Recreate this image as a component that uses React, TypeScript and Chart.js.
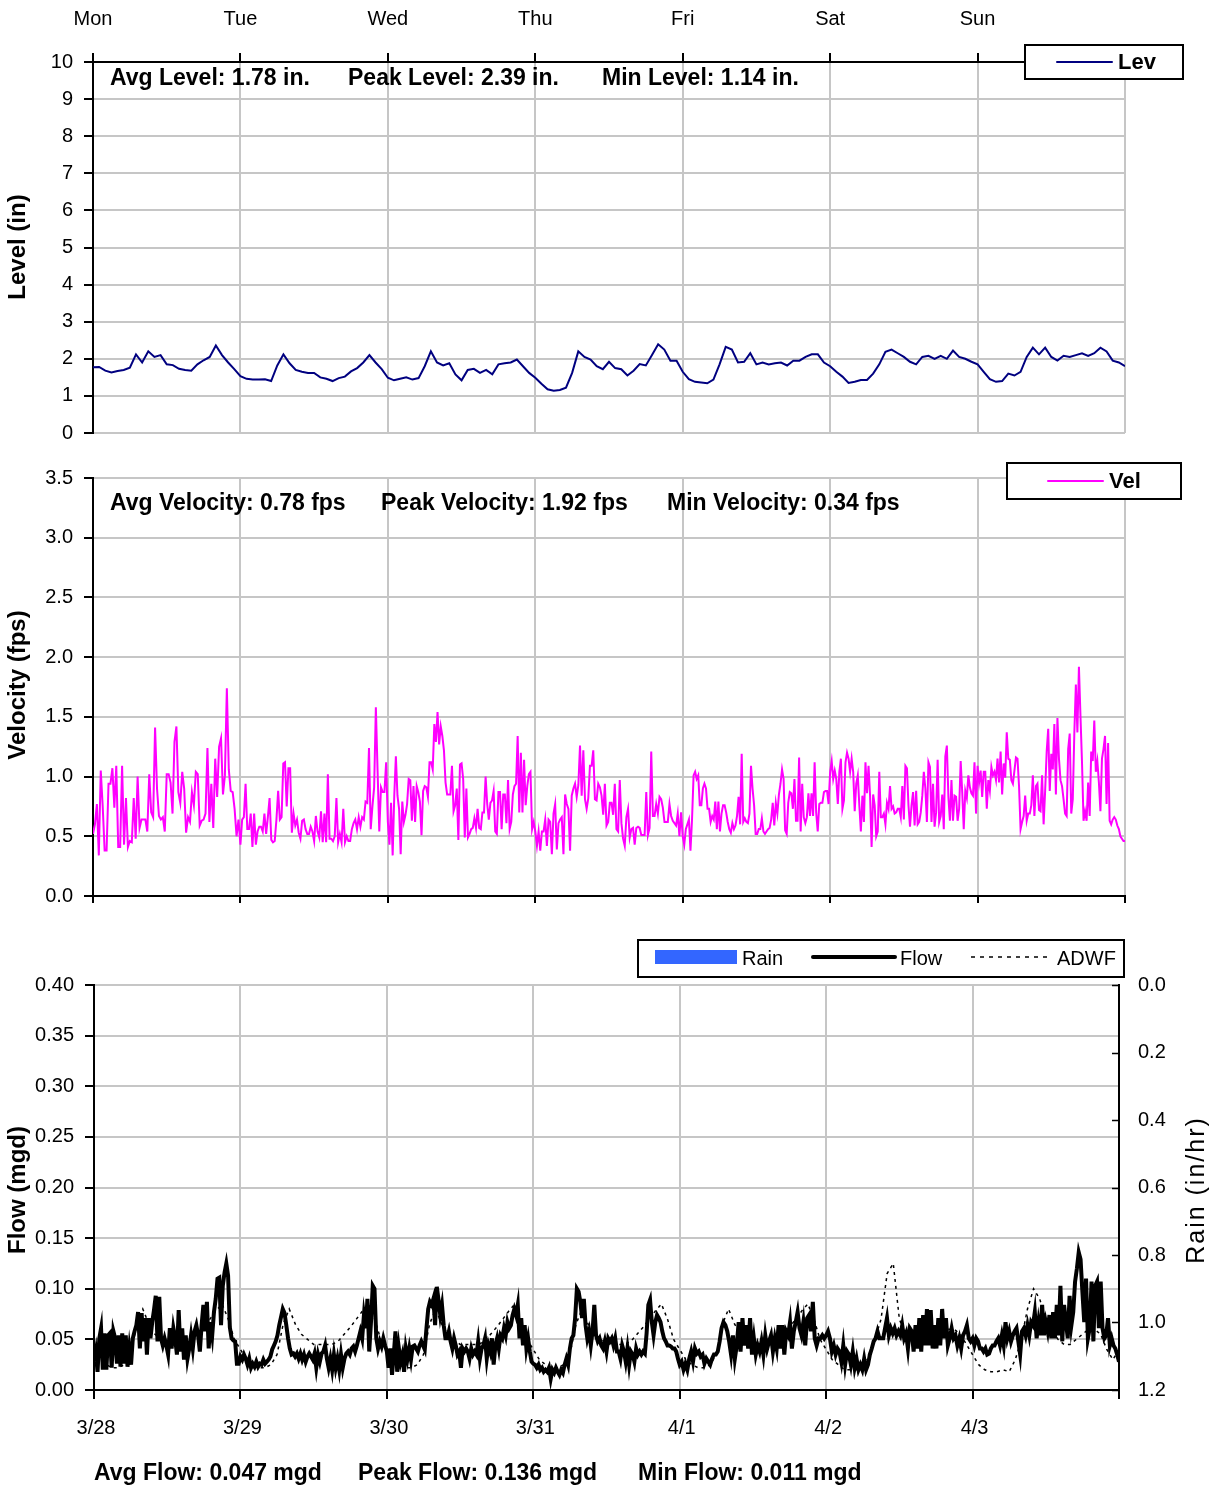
import React, { useEffect, useRef } from "react";
import { Chart, registerables } from "chart.js";

Chart.register(...registerables);

const FONT = "'Liberation Sans', Arial, Helvetica, sans-serif";
const GRID = "#c6c6c6";

// ---- axis labels ----
const dayNames = ["Mon", "Tue", "Wed", "Thu", "Fri", "Sat", "Sun"];
const dateLabels = ["3/28", "3/29", "3/30", "3/31", "4/1", "4/2", "4/3"];

// ---- stats texts ----
const levelStats = ["Avg Level: 1.78 in.", "Peak Level: 2.39 in.", "Min Level: 1.14 in."];
const velocityStats = ["Avg Velocity: 0.78 fps", "Peak Velocity: 1.92 fps", "Min Velocity: 0.34 fps"];
const flowStats = ["Avg Flow: 0.047 mgd", "Peak Flow: 0.136 mgd", "Min Flow: 0.011 mgd"];

// ---- Level (in), hourly per day ----
const levMon = [1.77, 1.78, 1.68, 1.63, 1.67, 1.70, 1.76, 2.12, 1.90, 2.20, 2.05, 2.10, 1.85, 1.83, 1.73, 1.70, 1.68, 1.85, 1.96, 2.05, 2.36, 2.10, 1.90, 1.72];
const levTue = [1.53, 1.46, 1.44, 1.44, 1.45, 1.40, 1.82, 2.12, 1.88, 1.70, 1.65, 1.62, 1.62, 1.50, 1.46, 1.40, 1.48, 1.52, 1.66, 1.75, 1.90, 2.10, 1.90, 1.72];
const levWed = [1.49, 1.42, 1.46, 1.50, 1.44, 1.48, 1.80, 2.20, 1.90, 1.82, 1.88, 1.58, 1.42, 1.70, 1.73, 1.62, 1.70, 1.58, 1.85, 1.88, 1.90, 1.98, 1.80, 1.62];
const levThu = [1.49, 1.33, 1.18, 1.14, 1.16, 1.22, 1.62, 2.20, 2.05, 1.98, 1.80, 1.72, 1.92, 1.75, 1.72, 1.55, 1.68, 1.86, 1.82, 2.10, 2.39, 2.25, 1.95, 1.95];
const levFri = [1.65, 1.45, 1.38, 1.36, 1.34, 1.44, 1.85, 2.32, 2.25, 1.90, 1.92, 2.15, 1.85, 1.90, 1.85, 1.88, 1.90, 1.82, 1.95, 1.95, 2.05, 2.12, 2.12, 1.90];
const levSat = [1.80, 1.65, 1.52, 1.35, 1.38, 1.43, 1.43, 1.60, 1.85, 2.19, 2.25, 2.15, 2.05, 1.92, 1.85, 2.05, 2.08, 2.00, 2.08, 2.00, 2.22, 2.05, 2.00, 1.92];
const levSun = [1.85, 1.65, 1.45, 1.38, 1.40, 1.60, 1.55, 1.65, 2.05, 2.30, 2.12, 2.30, 2.05, 1.95, 2.08, 2.05, 2.10, 2.15, 2.08, 2.15, 2.30, 2.20, 1.95, 1.90, 1.80];

// ---- Velocity (fps), ~15 min per day ----
const velMon = [0.52, 0.60, 0.77, 0.34, 1.05, 0.75, 0.38, 0.38, 0.94, 0.94, 1.07, 0.74, 1.09, 0.41, 0.41, 1.09, 0.43, 0.82, 0.41, 0.46, 0.45, 0.82, 0.48, 1.00, 0.57, 0.64, 0.64, 0.64, 0.54, 1.02, 0.70, 0.66, 1.41, 0.90, 0.67, 0.64, 0.66, 0.54, 1.02, 1.02, 0.95, 0.69, 1.29, 1.42, 0.87, 0.78, 1.04, 0.90, 0.53, 0.66, 0.62, 0.87, 0.76, 1.04, 1.02, 0.59, 0.63, 0.64, 0.69, 1.24, 0.62, 0.94, 0.57, 1.15, 0.83, 1.25, 1.32, 0.85, 1.01, 1.74, 1.06, 0.88, 0.87, 0.73, 0.50, 0.64];
const velTue = [0.43, 0.64, 0.66, 0.94, 0.56, 0.56, 0.69, 0.41, 0.69, 0.43, 0.54, 0.58, 0.58, 0.54, 0.69, 0.52, 0.66, 0.82, 0.47, 0.45, 0.46, 0.64, 0.88, 0.64, 0.66, 1.11, 1.12, 0.75, 1.07, 1.07, 0.53, 0.69, 0.59, 0.64, 0.53, 0.48, 0.63, 0.64, 0.56, 0.52, 0.52, 0.58, 0.54, 0.46, 0.67, 0.54, 0.49, 0.71, 0.45, 0.69, 0.45, 1.02, 0.48, 0.48, 0.46, 0.50, 0.82, 0.45, 0.52, 0.45, 0.73, 0.45, 0.50, 0.46, 0.46, 0.56, 0.61, 0.64, 0.56, 0.66, 0.58, 0.66, 0.64, 0.79, 0.78, 1.24, 0.56, 0.75, 0.91, 1.58, 1.05, 0.54, 0.91, 0.87, 0.87, 1.12];
const velWed = [0.62, 0.43, 0.78, 0.34, 0.84, 1.17, 0.84, 0.73, 0.35, 0.79, 0.62, 0.68, 0.77, 0.98, 0.97, 0.63, 0.92, 0.62, 0.92, 0.87, 0.79, 0.51, 0.88, 0.92, 0.91, 0.83, 1.12, 1.12, 1.06, 1.44, 1.29, 1.54, 1.27, 1.42, 1.34, 1.22, 0.95, 0.85, 0.85, 0.85, 1.09, 0.71, 0.76, 0.90, 0.47, 1.10, 1.11, 0.98, 0.49, 0.90, 0.49, 0.52, 0.56, 0.57, 0.65, 0.57, 0.73, 0.57, 0.56, 0.70, 0.70, 1.00, 0.77, 0.64, 0.78, 0.80, 0.88, 0.54, 0.52, 0.87, 0.87, 0.56, 0.85, 0.85, 0.61, 0.97, 0.56, 0.62, 0.85, 0.92, 0.94, 1.34, 0.70, 1.20, 0.70, 1.14, 0.76, 0.92, 1.02, 1.04, 0.56, 0.62];
const velThu = [0.54, 0.42, 0.54, 0.38, 0.54, 0.54, 0.64, 0.42, 0.64, 0.62, 0.35, 0.69, 0.77, 0.39, 0.61, 0.64, 0.66, 0.35, 0.85, 0.77, 0.73, 0.38, 0.84, 0.90, 0.94, 0.83, 0.93, 1.26, 0.84, 1.22, 0.81, 0.73, 0.82, 1.09, 1.09, 1.22, 0.81, 0.80, 0.94, 0.91, 0.84, 0.68, 0.94, 0.59, 0.62, 0.78, 0.78, 0.68, 0.94, 0.56, 0.54, 0.97, 0.61, 0.48, 0.42, 0.66, 0.73, 0.49, 0.56, 0.57, 0.43, 0.57, 0.58, 0.57, 0.51, 0.51, 0.51, 0.87, 0.51, 0.57, 1.21, 0.67, 0.67, 0.77, 0.69, 0.83, 0.81, 0.74, 0.62, 0.62, 0.62, 0.77, 0.67, 0.63, 0.61, 0.59, 0.69, 0.50, 0.70];
const velFri = [0.50, 0.43, 0.56, 0.60, 0.64, 0.38, 0.64, 1.01, 1.04, 0.98, 1.01, 0.76, 0.76, 0.90, 0.94, 0.90, 0.73, 0.73, 0.62, 0.67, 0.64, 0.79, 0.56, 0.79, 0.54, 0.69, 0.76, 0.76, 0.70, 0.62, 0.56, 0.53, 0.61, 0.56, 0.59, 0.67, 0.83, 0.60, 1.19, 0.62, 0.65, 0.62, 0.61, 0.69, 1.09, 0.90, 0.76, 0.52, 0.52, 0.56, 0.56, 0.65, 0.54, 0.52, 0.54, 0.56, 0.57, 0.64, 0.78, 0.59, 0.78, 0.69, 0.85, 0.94, 1.06, 0.98, 0.55, 0.52, 0.78, 0.87, 0.86, 0.73, 0.98, 0.63, 0.63, 1.16, 0.54, 0.94, 0.66, 0.61, 0.66, 0.86, 0.67, 0.86, 0.67, 1.12, 0.70, 0.54, 0.77, 0.78, 0.78, 0.87, 0.88, 0.88, 0.77];
const velSat = [1.04, 1.13, 0.98, 1.05, 0.98, 0.77, 1.04, 1.15, 0.73, 0.80, 1.12, 1.20, 1.15, 1.04, 1.15, 1.04, 0.71, 0.94, 1.01, 0.76, 0.54, 0.84, 0.62, 1.12, 0.86, 1.09, 0.84, 0.41, 0.85, 0.76, 0.50, 0.54, 1.04, 0.66, 0.66, 0.69, 0.60, 0.78, 0.73, 0.92, 0.73, 0.75, 0.69, 0.70, 0.73, 0.73, 0.66, 0.92, 0.64, 1.09, 1.07, 0.76, 0.58, 0.76, 0.87, 0.59, 0.88, 0.60, 0.62, 0.70, 0.84, 1.04, 0.90, 0.62, 1.12, 1.08, 0.62, 0.94, 0.58, 0.70, 1.14, 0.62, 0.67, 0.85, 0.56, 1.17, 1.26, 0.83, 0.63, 0.97, 0.63, 0.84, 0.83, 0.63, 0.73, 1.13, 0.87, 0.56, 0.88, 0.82, 1.01, 0.91, 0.86, 0.84, 1.12, 0.69];
const velSun = [1.09, 0.95, 1.05, 0.83, 1.04, 1.04, 0.73, 0.97, 0.88, 1.08, 1.01, 1.04, 0.97, 1.15, 0.95, 1.21, 0.85, 1.11, 0.99, 1.37, 1.15, 1.14, 0.97, 0.94, 1.05, 1.16, 1.15, 0.92, 0.56, 0.62, 0.67, 0.84, 0.63, 0.69, 0.69, 0.76, 1.01, 0.67, 0.92, 0.94, 0.72, 0.71, 1.01, 0.60, 0.88, 1.21, 1.40, 0.88, 1.19, 1.06, 1.44, 0.85, 1.49, 1.15, 0.97, 0.92, 0.81, 0.69, 0.67, 1.23, 1.36, 0.69, 0.81, 1.36, 1.77, 1.37, 1.92, 1.51, 1.12, 0.63, 0.71, 0.63, 0.95, 0.67, 1.21, 1.13, 1.47, 1.04, 1.13, 0.95, 0.71, 1.15, 1.23, 1.34, 0.77, 1.28, 0.63, 0.60, 0.64, 0.66, 0.64, 0.59, 0.56, 0.50, 0.48, 0.46, 0.46];

// ---- Flow (mgd), ~15 min per day ----
const flowMon = [0.028, 0.038, 0.018, 0.051, 0.061, 0.020, 0.056, 0.020, 0.054, 0.056, 0.022, 0.058, 0.051, 0.026, 0.054, 0.023, 0.056, 0.026, 0.054, 0.023, 0.041, 0.025, 0.051, 0.058, 0.064, 0.077, 0.041, 0.076, 0.048, 0.071, 0.035, 0.071, 0.051, 0.067, 0.079, 0.093, 0.048, 0.092, 0.051, 0.044, 0.051, 0.044, 0.035, 0.061, 0.041, 0.061, 0.051, 0.035, 0.079, 0.038, 0.061, 0.030, 0.054, 0.031, 0.041, 0.054, 0.041, 0.058, 0.064, 0.054, 0.038, 0.064, 0.084, 0.058, 0.087, 0.041, 0.067, 0.054, 0.077, 0.090, 0.110, 0.111, 0.064, 0.103, 0.116, 0.125, 0.113, 0.062, 0.051, 0.049, 0.048, 0.026, 0.026];
const flowTue = [0.033, 0.030, 0.035, 0.031, 0.025, 0.031, 0.022, 0.026, 0.023, 0.028, 0.023, 0.026, 0.025, 0.030, 0.026, 0.028, 0.030, 0.033, 0.040, 0.044, 0.048, 0.054, 0.064, 0.072, 0.080, 0.076, 0.064, 0.051, 0.041, 0.035, 0.036, 0.033, 0.036, 0.031, 0.036, 0.030, 0.035, 0.028, 0.033, 0.036, 0.033, 0.030, 0.036, 0.022, 0.035, 0.028, 0.036, 0.038, 0.044, 0.031, 0.022, 0.031, 0.020, 0.035, 0.022, 0.031, 0.020, 0.035, 0.022, 0.031, 0.036, 0.038, 0.035, 0.041, 0.043, 0.038, 0.044, 0.051, 0.058, 0.051, 0.074, 0.061, 0.090, 0.038, 0.067, 0.103, 0.100, 0.051, 0.041, 0.048, 0.043, 0.051, 0.044];
const flowWed = [0.038, 0.022, 0.041, 0.015, 0.035, 0.058, 0.018, 0.041, 0.028, 0.035, 0.018, 0.041, 0.031, 0.041, 0.030, 0.043, 0.044, 0.041, 0.038, 0.044, 0.048, 0.044, 0.040, 0.061, 0.080, 0.087, 0.084, 0.090, 0.064, 0.102, 0.089, 0.074, 0.084, 0.064, 0.051, 0.051, 0.058, 0.048, 0.041, 0.051, 0.044, 0.035, 0.038, 0.022, 0.041, 0.038, 0.041, 0.038, 0.031, 0.041, 0.035, 0.038, 0.035, 0.048, 0.031, 0.041, 0.044, 0.051, 0.031, 0.044, 0.038, 0.051, 0.025, 0.044, 0.051, 0.041, 0.054, 0.051, 0.061, 0.054, 0.067, 0.061, 0.064, 0.074, 0.080, 0.074, 0.084, 0.051, 0.071, 0.044, 0.064, 0.041, 0.051, 0.038, 0.028];
const flowThu = [0.026, 0.025, 0.022, 0.025, 0.020, 0.022, 0.018, 0.020, 0.018, 0.022, 0.011, 0.020, 0.017, 0.022, 0.018, 0.015, 0.020, 0.017, 0.025, 0.031, 0.025, 0.041, 0.051, 0.054, 0.071, 0.100, 0.097, 0.087, 0.071, 0.090, 0.064, 0.051, 0.058, 0.044, 0.058, 0.084, 0.054, 0.048, 0.051, 0.044, 0.041, 0.048, 0.038, 0.051, 0.048, 0.051, 0.044, 0.051, 0.038, 0.038, 0.031, 0.044, 0.038, 0.028, 0.041, 0.025, 0.038, 0.035, 0.028, 0.041, 0.035, 0.038, 0.035, 0.038, 0.036, 0.056, 0.084, 0.089, 0.067, 0.054, 0.067, 0.074, 0.071, 0.067, 0.058, 0.051, 0.048, 0.044, 0.044, 0.043, 0.041, 0.041, 0.038, 0.031];
const flowFri = [0.025, 0.028, 0.020, 0.026, 0.020, 0.031, 0.038, 0.028, 0.041, 0.036, 0.038, 0.033, 0.035, 0.026, 0.031, 0.028, 0.025, 0.031, 0.035, 0.035, 0.038, 0.048, 0.061, 0.067, 0.064, 0.058, 0.048, 0.035, 0.054, 0.031, 0.044, 0.067, 0.038, 0.071, 0.044, 0.064, 0.041, 0.071, 0.035, 0.051, 0.035, 0.044, 0.038, 0.048, 0.035, 0.054, 0.041, 0.048, 0.054, 0.038, 0.051, 0.041, 0.064, 0.041, 0.064, 0.035, 0.058, 0.054, 0.067, 0.041, 0.058, 0.067, 0.077, 0.061, 0.054, 0.067, 0.044, 0.071, 0.074, 0.058, 0.087, 0.051, 0.044, 0.051, 0.051, 0.054, 0.051];
const flowSat = [0.054, 0.058, 0.051, 0.038, 0.044, 0.035, 0.041, 0.038, 0.028, 0.044, 0.025, 0.038, 0.035, 0.025, 0.038, 0.022, 0.031, 0.020, 0.025, 0.020, 0.031, 0.020, 0.025, 0.035, 0.041, 0.048, 0.051, 0.058, 0.051, 0.051, 0.051, 0.061, 0.071, 0.054, 0.061, 0.056, 0.061, 0.054, 0.058, 0.054, 0.064, 0.051, 0.056, 0.041, 0.061, 0.058, 0.038, 0.064, 0.041, 0.071, 0.038, 0.074, 0.044, 0.080, 0.044, 0.079, 0.041, 0.064, 0.041, 0.071, 0.044, 0.080, 0.051, 0.071, 0.044, 0.051, 0.061, 0.051, 0.054, 0.044, 0.051, 0.041, 0.054, 0.058, 0.064, 0.051, 0.048];
const flowSun = [0.051, 0.044, 0.051, 0.048, 0.041, 0.041, 0.038, 0.041, 0.035, 0.036, 0.041, 0.044, 0.044, 0.048, 0.051, 0.044, 0.054, 0.044, 0.067, 0.051, 0.058, 0.048, 0.054, 0.058, 0.061, 0.048, 0.035, 0.058, 0.061, 0.054, 0.064, 0.054, 0.067, 0.064, 0.077, 0.051, 0.067, 0.054, 0.084, 0.054, 0.067, 0.058, 0.074, 0.051, 0.077, 0.051, 0.084, 0.054, 0.103, 0.048, 0.084, 0.067, 0.051, 0.093, 0.064, 0.077, 0.107, 0.120, 0.136, 0.129, 0.097, 0.067, 0.110, 0.051, 0.061, 0.107, 0.048, 0.103, 0.107, 0.061, 0.107, 0.061, 0.051, 0.054, 0.071, 0.044, 0.051, 0.044, 0.041, 0.035, 0.028];

// ---- ADWF (mgd), hourly ----
const adwfWeekday = [0.040, 0.030, 0.025, 0.022, 0.022, 0.025, 0.035, 0.065, 0.080, 0.065, 0.055, 0.050, 0.045, 0.045, 0.045, 0.045, 0.048, 0.055, 0.062, 0.070, 0.078, 0.085, 0.070, 0.050];
const adwfSat = [0.040, 0.030, 0.025, 0.020, 0.020, 0.020, 0.025, 0.035, 0.050, 0.070, 0.115, 0.125, 0.070, 0.055, 0.050, 0.050, 0.050, 0.050, 0.055, 0.055, 0.060, 0.060, 0.055, 0.045];
const adwfSun = [0.035, 0.025, 0.020, 0.018, 0.018, 0.020, 0.018, 0.030, 0.050, 0.080, 0.100, 0.090, 0.070, 0.060, 0.050, 0.045, 0.045, 0.050, 0.055, 0.060, 0.060, 0.055, 0.040, 0.030, 0.040];

// ---- Rain (in/hr), daily ----
const rainDaily = [0, 0, 0, 0, 0, 0, 0];

type Pt = { x: number; y: number };
function spread(days: number[][]): Pt[] {
  const pts: Pt[] = [];
  days.forEach((arr, d) => {
    const isLast = d === days.length - 1;
    const n = isLast ? arr.length - 1 : arr.length;
    arr.forEach((v, i) => pts.push({ x: d + i / n, y: v }));
  });
  return pts;
}

function yScale(min: number, max: number, step: number, digits: number, width: number) {
  return {
    type: "linear",
    position: "left",
    min,
    max,
    ticks: {
      stepSize: step,
      color: "#000",
      font: { family: FONT, size: 20 },
      padding: 11,
      callback: (v: any) => Number(v).toFixed(digits),
    },
    grid: { color: GRID, lineWidth: 2, tickColor: "#000", tickLength: 9 },
    border: { color: "#000", width: 2 },
    afterFit: (s: any) => {
      s.width = width;
    },
  };
}

function xScale(position: string, labels: string[], height: number, tickLength: number, padding: number) {
  return {
    type: "linear",
    position,
    min: 0,
    max: 7,
    offset: false,
    ticks: {
      stepSize: 1,
      autoSkip: false,
      maxRotation: 0,
      color: "#000",
      font: { family: FONT, size: 20 },
      padding,
      labelOffset: position === "bottom" ? 2 : 0,
      callback: (v: any) => labels[Number(v)] ?? "",
    },
    grid: { color: GRID, lineWidth: 2, tickColor: "#000", tickLength, offset: false },
    border: { color: "#000", width: 2 },
    afterFit: (s: any) => {
      s.height = height;
    },
  };
}

function vtext(ctx: CanvasRenderingContext2D, t: string, x: number, y: number, font: string, spacing = "0px") {
  ctx.save();
  ctx.translate(x, y);
  ctx.rotate(-Math.PI / 2);
  ctx.font = font;
  (ctx as any).letterSpacing = spacing;
  ctx.fillStyle = "#000";
  ctx.textAlign = "center";
  ctx.textBaseline = "middle";
  ctx.fillText(t, 0, 0);
  ctx.restore();
}

function htext(ctx: CanvasRenderingContext2D, t: string, x: number, y: number, font: string) {
  ctx.save();
  ctx.font = font;
  ctx.fillStyle = "#000";
  ctx.textAlign = "left";
  ctx.textBaseline = "middle";
  ctx.fillText(t, x, y);
  ctx.restore();
}

function box(ctx: CanvasRenderingContext2D, x: number, y: number, w: number, h: number) {
  ctx.save();
  ctx.fillStyle = "#fff";
  ctx.fillRect(x, y, w, h);
  ctx.lineWidth = 2;
  ctx.strokeStyle = "#000";
  ctx.strokeRect(x, y, w, h);
  ctx.restore();
}

function seg(ctx: CanvasRenderingContext2D, x1: number, x2: number, y: number, color: string, w: number, dash: number[] = []) {
  ctx.save();
  ctx.strokeStyle = color;
  ctx.lineWidth = w;
  ctx.setLineDash(dash);
  ctx.lineCap = dash.length ? "butt" : "round";
  ctx.beginPath();
  ctx.moveTo(x1, y);
  ctx.lineTo(x2, y);
  ctx.stroke();
  ctx.restore();
}

const BOLD = `bold 23px ${FONT}`;
const LEG = `bold 22px ${FONT}`;
const TITLE = `bold 24px ${FONT}`;
const REG = `20px ${FONT}`;

function decor(id: string, draw: (chart: any) => void) {
  return { id, afterDraw: (chart: any) => draw(chart) };
}

const baseOpts = {
  responsive: false,
  animation: false,
  events: [],
  plugins: { legend: { display: false }, tooltip: { enabled: false } },
};

export default function App() {
  const refA = useRef<HTMLCanvasElement>(null);
  const refB = useRef<HTMLCanvasElement>(null);
  const refC = useRef<HTMLCanvasElement>(null);

  useEffect(() => {
    const charts: Chart[] = [];

    // Level panel (page y 0..456)
    charts.push(
      new Chart(refA.current!, {
        type: "line",
        data: {
          datasets: [
            {
              label: "Lev",
              data: spread([levMon, levTue, levWed, levThu, levFri, levSat, levSun]),
              borderColor: "#000080",
              borderWidth: 2,
              pointRadius: 0,
              tension: 0,
            },
          ],
        },
        options: {
          ...baseOpts,
          layout: { padding: { top: 0, right: 88, bottom: 2, left: 0 } },
          scales: {
            x: xScale("top", dayNames, 62, 9, 22),
            y: yScale(0, 10, 1, 0, 93),
          },
        } as any,
        plugins: [
          decor("decorA", (chart) => {
            const ctx = chart.ctx as CanvasRenderingContext2D;
            vtext(ctx, "Level (in)", 18, 247, TITLE);
            htext(ctx, levelStats[0], 110, 79, BOLD);
            htext(ctx, levelStats[1], 348, 79, BOLD);
            htext(ctx, levelStats[2], 602, 79, BOLD);
            box(ctx, 1025, 45, 158, 34);
            seg(ctx, 1057, 1112, 62, "#000080", 2);
            htext(ctx, "Lev", 1118, 63, LEG);
          }),
        ],
      })
    );

    // Velocity panel (page y 440..919)
    charts.push(
      new Chart(refB.current!, {
        type: "line",
        data: {
          datasets: [
            {
              label: "Vel",
              data: spread([velMon, velTue, velWed, velThu, velFri, velSat, velSun]),
              borderColor: "#ff00ff",
              borderWidth: 2,
              pointRadius: 0,
              tension: 0,
            },
          ],
        },
        options: {
          ...baseOpts,
          layout: { padding: { top: 38, right: 88, bottom: 0, left: 0 } },
          scales: {
            x: xScale("bottom", [], 8, 7, 0),
            y: yScale(0, 3.5, 0.5, 1, 93),
          },
        } as any,
        plugins: [
          decor("decorB", (chart) => {
            const ctx = chart.ctx as CanvasRenderingContext2D;
            vtext(ctx, "Velocity (fps)", 18, 245, TITLE);
            htext(ctx, velocityStats[0], 110, 64, BOLD);
            htext(ctx, velocityStats[1], 381, 64, BOLD);
            htext(ctx, velocityStats[2], 667, 64, BOLD);
            box(ctx, 1007, 23, 174, 36);
            seg(ctx, 1048, 1103, 41, "#ff00ff", 2);
            htext(ctx, "Vel", 1109, 42, LEG);
          }),
        ],
      })
    );

    // Flow panel (page y 904..1486)
    charts.push(
      new Chart(refC.current!, {
        type: "line",
        data: {
          datasets: [
            {
              type: "bar",
              label: "Rain",
              data: rainDaily.map((v, d) => ({ x: d + 0.5, y: v })),
              backgroundColor: "#3366ff",
              borderWidth: 0,
              inflateAmount: 0,
              barThickness: 20,
              yAxisID: "rain",
              order: 3,
            },
            {
              label: "ADWF",
              data: spread([adwfWeekday, adwfWeekday, adwfWeekday, adwfWeekday, adwfWeekday, adwfSat, adwfSun]),
              borderColor: "#000",
              borderWidth: 1.5,
              borderDash: [3, 4],
              pointRadius: 0,
              tension: 0,
              yAxisID: "y",
              order: 2,
            },
            {
              label: "Flow",
              data: spread([flowMon, flowTue, flowWed, flowThu, flowFri, flowSat, flowSun]),
              borderColor: "#000",
              borderWidth: 4,
              pointRadius: 0,
              tension: 0,
              yAxisID: "y",
              order: 1,
            },
          ],
        },
        options: {
          ...baseOpts,
          layout: { padding: { top: 81, right: 0, bottom: 0, left: 0 } },
          scales: {
            x: xScale("bottom", dateLabels, 96, 9, 17),
            y: yScale(0, 0.4, 0.05, 2, 94),
            rain: {
              type: "linear",
              position: "right",
              reverse: true,
              min: 0,
              max: 1.2,
              ticks: {
                stepSize: 0.2,
                color: "#000",
                font: { family: FONT, size: 20 },
                padding: 19,
                callback: (v: any) => Number(v).toFixed(1),
              },
              grid: { drawOnChartArea: false, drawTicks: false },
              border: { color: "#000", width: 2 },
              afterFit: (s: any) => {
                s.width = 94;
              },
            },
          },
        } as any,
        plugins: [
          decor("decorC", (chart) => {
            const ctx = chart.ctx as CanvasRenderingContext2D;
            const rs = chart.scales.rain;
            ctx.save();
            ctx.strokeStyle = "#000";
            ctx.lineWidth = 1.5;
            ctx.beginPath();
            rs.ticks.forEach((t: any) => {
              const y = Math.round(rs.getPixelForValue(t.value)) + 0.5;
              ctx.moveTo(rs.left - 7, y);
              ctx.lineTo(rs.left, y);
            });
            ctx.stroke();
            ctx.restore();
            vtext(ctx, "Flow (mgd)", 18, 286, TITLE);
            vtext(ctx, "Rain (in/hr)", 1197, 286, `25px ${FONT}`, "2px");
            htext(ctx, flowStats[0], 94, 570, BOLD);
            htext(ctx, flowStats[1], 358, 570, BOLD);
            htext(ctx, flowStats[2], 638, 570, BOLD);
            box(ctx, 638, 36, 486, 37);
            ctx.save();
            ctx.fillStyle = "#3366ff";
            ctx.fillRect(655, 46, 82, 14);
            ctx.restore();
            htext(ctx, "Rain", 742, 55, REG);
            seg(ctx, 813, 895, 53, "#000", 4);
            htext(ctx, "Flow", 900, 55, REG);
            seg(ctx, 971, 1050, 53, "#000", 1.5, [4, 5]);
            htext(ctx, "ADWF", 1057, 55, REG);
          }),
        ],
      })
    );

    return () => charts.forEach((c) => c.destroy());
  }, []);

  return (
    <div style={{ position: "absolute", left: 0, top: 0, width: 1213, height: 1486, background: "#fff" }}>
      <canvas ref={refA} width={1213} height={456} style={{ position: "absolute", left: 0, top: 0 }} />
      <canvas ref={refC} width={1213} height={582} style={{ position: "absolute", left: 0, top: 904 }} />
      <canvas ref={refB} width={1213} height={479} style={{ position: "absolute", left: 0, top: 440 }} />
    </div>
  );
}
